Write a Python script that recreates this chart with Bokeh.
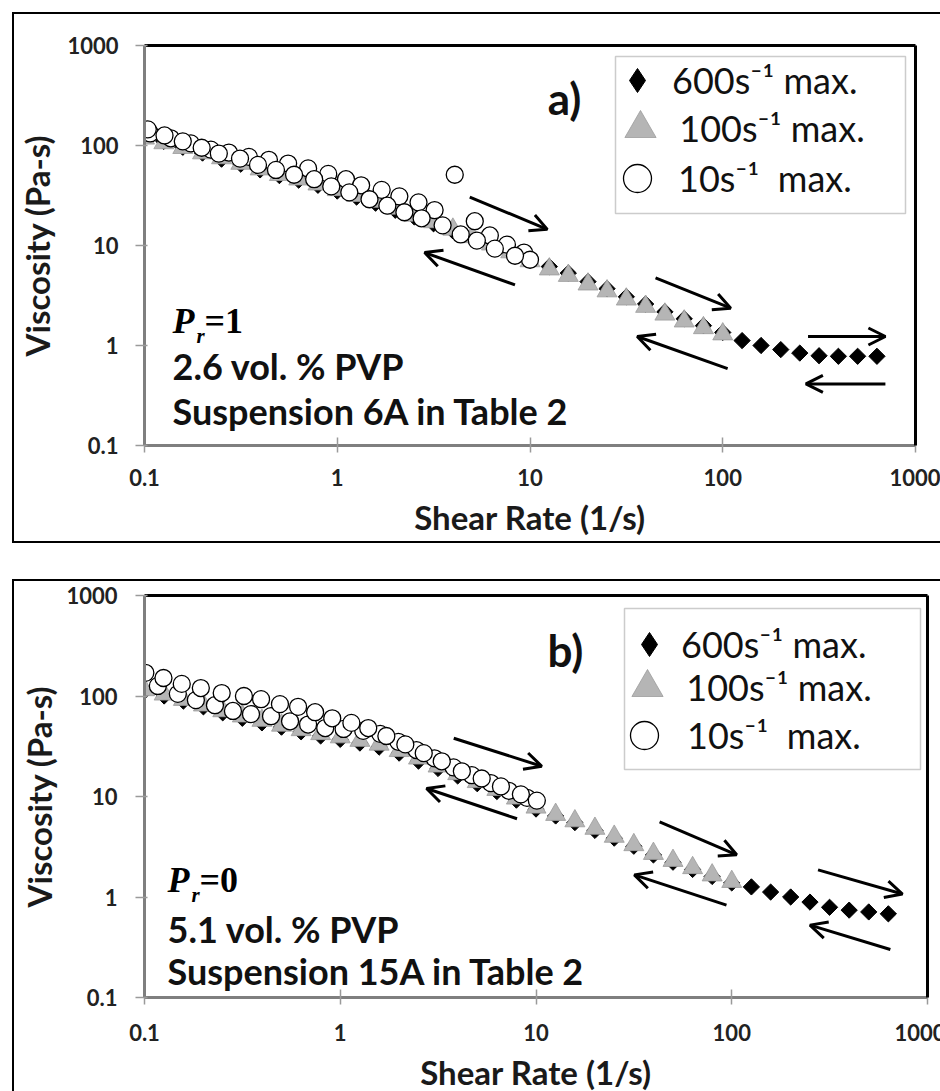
import math
from bokeh.plotting import figure
from bokeh.models import (FixedTicker, CustomJSTickFormatter, LogAxis, Label, Arrow, OpenHead,
                          Legend, LegendItem, BoxAnnotation, ColumnDataSource)
from bokeh.layouts import column
from bokeh.embed import file_html
from bokeh.resources import INLINE

# ---------------- data ----------------
TICKS = [0.1, 1, 10, 100, 1000]

SHEAR_GRID = [0.1, 0.126, 0.158, 0.2, 0.251, 0.316, 0.398, 0.501, 0.631, 0.794,
              1.0, 1.26, 1.58, 2.0, 2.51, 3.16, 3.98, 5.01, 6.31, 7.94,
              10.0, 12.6, 15.8, 20.0, 25.1, 31.6, 39.8, 50.1, 63.1, 79.4,
              100.0, 126, 158, 200, 251, 316, 398, 501, 631]
SHEAR_100 = SHEAR_GRID[:31]

# panel a  (Pr = 1, 2.6 vol.% PVP)
a_visc_600 = [125, 110, 96, 84, 73, 65, 57, 50, 45, 40,
              35, 30.5, 26.5, 22.5, 19.3, 16.5, 14, 11.8, 10, 8.3,
              7.3, 6.15, 5.3, 4.35, 3.7, 3.07, 2.6, 2.17, 1.85, 1.58,
              1.35, 1.12, 1.0, 0.91, 0.84, 0.79, 0.78, 0.78, 0.78]
a_visc_100 = [118, 106, 95, 84, 75, 66, 58, 51, 46, 41,
              36, 31.5, 27.5, 23.5, 20, 17.2, 14.5, 12.2, 10.3, 8.6,
              7.0, 5.8, 5.0, 4.1, 3.5, 2.9, 2.45, 2.05, 1.75, 1.5, 1.3]
a_shear_10_up = [0.107, 0.137, 0.174, 0.221, 0.274, 0.348, 0.442, 0.556, 0.706, 0.898,
                 1.11, 1.33, 1.70, 2.10, 2.64, 3.20, 4.07, 5.17, 6.19, 7.59, 9.31]
a_visc_10_up = [132, 118, 105, 91, 85, 77, 72, 66, 59, 52,
                46, 40, 36, 31, 27, 22.6, 51, 17.5, 12.6, 10.2, 8.5]
a_shear_10_down = [10.0, 8.36, 6.57, 5.30, 4.37, 3.52, 2.74, 2.23, 1.82, 1.47, 1.155,
                   0.931, 0.759, 0.597, 0.481, 0.388, 0.313, 0.243, 0.198, 0.158, 0.127, 0.104]
a_visc_10_down = [7.2, 7.9, 9.3, 11.2, 12.9, 15.9, 18.7, 21.5, 25, 29, 34,
                  39, 46, 51, 57, 64, 74, 83, 95, 110, 126, 145]

# panel b  (Pr = 0, 5.1 vol.% PVP)
b_visc_600 = [112, 100, 89, 78, 68, 60, 54, 49, 44, 40,
              37, 34, 31, 27, 22.5, 19, 16, 13.4, 11.2, 9.2,
              7.5, 6.4, 5.5, 4.6, 3.85, 3.2, 2.62, 2.22, 1.88, 1.6,
              1.38, 1.26, 1.12, 1.0, 0.89, 0.79, 0.74, 0.71, 0.68]
b_visc_100 = [115, 104, 92, 81, 71, 63, 57, 51, 46, 42,
              39, 36, 33, 28.5, 24, 20, 16.8, 14, 11.7, 9.6,
              7.8, 6.6, 5.7, 4.8, 4.0, 3.3, 2.7, 2.3, 1.95, 1.65, 1.42]
b_shear_10_low = [0.117, 0.148, 0.183, 0.229, 0.283, 0.350, 0.443, 0.554, 0.685, 0.838,
                  1.04, 1.31, 1.60, 1.98, 2.45, 3.03, 3.79, 4.70, 5.88, 7.27, 9.0]
b_visc_10_low = [126, 105, 91, 81, 71, 66, 63, 56, 52, 48,
                 47, 45, 42, 35, 29, 24, 19.5, 16.3, 13.6, 11.4, 9.7]
b_shear_10_up = [0.101, 0.125, 0.155, 0.194, 0.248, 0.322, 0.394, 0.492, 0.609, 0.744, 0.910,
                 1.14, 1.39, 1.72, 2.15, 2.67, 3.30, 4.18, 5.28, 6.62, 8.37, 10.1]
b_visc_10_up = [170, 151, 132, 120, 107, 100, 93, 83, 78, 69, 60,
                54, 48, 40, 33, 27, 22.4, 17.8, 15.1, 12.6, 10.5, 9.1]

LEGEND_LABELS = ["600s\u207b\u00b9 max.", "100s\u207b\u00b9 max.", "10s\u207b\u00b9  max."]

# arrow annotations (data space: x_start, y_start, x_end, y_end)
a_arrows = [(4.87, 30.5, 12.3, 14.5), (8.36, 4.04, 2.84, 8.5),
            (44.8, 4.75, 110, 2.36), (106, 0.586, 36, 1.23),
            (277, 1.23, 698, 1.23), (698, 0.413, 270, 0.413)]
b_arrows = [(3.8, 38, 10.7, 20), (8.0, 6.0, 2.76, 12),
            (42.8, 5.6, 106, 2.63), (94, 0.83, 31.8, 1.66),
            (276, 1.86, 745, 1.07), (646, 0.30, 251, 0.525)]

FONT = "Lato"
SERIF = "Liberation Serif"
AXIS_GREY = "#7f7f7f"
INK = "#111111"


def make_panel(cfg):
    fl, fr, ft, fb = cfg["frame"]          # page coords of frame
    cl, ct = cfg["canvas_origin"]
    p = figure(x_axis_type="log", y_axis_type="log",
               x_range=(0.1, 1000), y_range=(0.1, 1000),
               frame_width=fr - fl, frame_height=fb - ft,
               min_border_left=fl - cl, min_border_right=cfg["canvas_right"] - fr,
               min_border_top=ft - ct, min_border_bottom=cfg["canvas_bottom"] - fb,
               output_backend="svg", toolbar_location=None,
               background_fill_color="white", border_fill_color="white")
    p.outline_line_color = None
    p.grid.visible = False

    fmt = CustomJSTickFormatter(code="return tick.toString()")
    for ax in (p.xaxis[0], p.yaxis[0]):
        ax.ticker = FixedTicker(ticks=TICKS, minor_ticks=[])
        ax.formatter = fmt
        ax.axis_line_color = AXIS_GREY
        ax.axis_line_width = 3
        ax.major_tick_line_color = "#9a9a9a"
        ax.major_tick_line_width = 1.5
        ax.minor_tick_line_color = None
        ax.major_label_text_font = FONT
        ax.major_label_text_font_style = "bold"
        ax.major_label_text_font_size = "22px"
        ax.major_label_text_color = "#222222"
        ax.axis_label_text_font = FONT
        ax.axis_label_text_font_style = "bold"
        ax.axis_label_text_font_size = "33px"
        ax.axis_label_text_color = "#1a1a1a"
    p.xaxis.axis_label = "Shear Rate (1/s)"
    p.yaxis.axis_label = "Viscosity (Pa-s)"
    p.yaxis.major_tick_out = 9
    p.yaxis.major_tick_in = 3
    p.yaxis.major_label_standoff = cfg["ylab_standoff"]
    p.yaxis.axis_label_standoff = cfg["ytitle_standoff"]
    p.xaxis.major_tick_out = 7
    p.xaxis.major_tick_in = 8
    p.xaxis.major_label_standoff = cfg["xlab_standoff"]
    p.xaxis.axis_label_standoff = cfg["xtitle_standoff"]

    for side in ("above", "right"):
        ax = LogAxis(ticker=FixedTicker(ticks=[]), axis_line_color="black", axis_line_width=3,
                     major_tick_line_color=None, minor_tick_line_color=None,
                     major_label_text_font_size="0px")
        p.add_layout(ax, side)

    d = cfg["data"]
    src600 = ColumnDataSource(dict(x=SHEAR_GRID, y=d["v600"]))
    src100 = ColumnDataSource(dict(x=SHEAR_100, y=d["v100"]))
    src10 = ColumnDataSource(dict(x=d["s10_a"] + d["s10_b"], y=d["v10_a"] + d["v10_b"]))
    # legend key for the diamond series: same data, narrower diamond marker,
    # drawn first so the rotated squares below cover it completely
    r600_key = p.scatter("x", "y", source=src600, marker="diamond", size=10,
                         fill_color="black", line_color="black")
    p.scatter("x", "y", source=src600, marker="square", angle=math.pi / 4, size=11.5,
              fill_color="black", line_color="black")
    r100 = p.scatter("x", "y", source=src100, marker="triangle", size=20,
                     fill_color="#b5b5b5", line_color="#9c9c9c", line_width=0.8)
    r10 = p.scatter("x", "y", source=src10, marker="circle", size=17,
                    fill_color="white", line_color="black", line_width=1.3)

    for (xs, ys, xe, ye) in cfg["arrows"]:
        p.add_layout(Arrow(x_start=xs, y_start=ys, x_end=xe, y_end=ye,
                           line_color="black", line_width=3,
                           end=OpenHead(size=17, line_width=3, line_color="black")))

    # legend box
    bx0, by0, bx1, by1 = cfg["legend_box"]
    p.add_layout(BoxAnnotation(left=bx0 - fl, right=bx1 - fl, top=fb - by0, bottom=fb - by1,
                               left_units="screen", right_units="screen",
                               top_units="screen", bottom_units="screen",
                               fill_alpha=0, fill_color=None,
                               line_color="#555555", line_width=1.5))
    for rend, label, size, cx, cy, tx in zip([r600_key, r100, r10], LEGEND_LABELS,
                                             cfg["key_sizes"], cfg["key_cx"], cfg["key_cy"], cfg["key_tx"]):
        g = size / 0.4
        leg = Legend(items=[LegendItem(label=label, renderers=[rend])],
                     location=(cx - g / 2 - fl, fb - (cy + g / 2)),
                     glyph_width=int(round(g)), glyph_height=int(round(g)),
                     label_standoff=max(0, int(round(tx - (cx + g / 2)))),
                     padding=0, margin=0, spacing=0, label_height=10,
                     border_line_color=None, background_fill_alpha=0,
                     label_text_font=FONT, label_text_font_size="36px",
                     label_text_color=INK)
        p.add_layout(leg)

    # annotation texts (y values are text centres in page pixels)
    px, pc = cfg["pr_pos"]
    p.add_layout(Label(x=px - fl, y=fb - pc, x_units="screen", y_units="screen", text="P",
                       text_font=SERIF, text_font_style="bold italic", text_font_size="36px",
                       text_color="black", text_baseline="middle"))
    p.add_layout(Label(x=px + 24 - fl, y=fb - pc - 15, x_units="screen", y_units="screen", text="r",
                       text_font=SERIF, text_font_style="bold italic", text_font_size="21px",
                       text_color="black", text_baseline="middle"))
    p.add_layout(Label(x=px + 32 - fl, y=fb - pc, x_units="screen", y_units="screen",
                       text=cfg["pr_text"], text_font=SERIF, text_font_style="bold",
                       text_color="black", text_font_size="36px", text_baseline="middle"))
    for txt, yc in zip(cfg["lines"], cfg["line_centres"]):
        p.add_layout(Label(x=px - fl, y=fb - yc, x_units="screen", y_units="screen", text=txt,
                           text_font=FONT, text_font_style="bold", text_font_size="36px",
                           text_color=INK, text_baseline="middle"))
    tx, tc = cfg["tag_pos"]
    p.add_layout(Label(x=tx - fl, y=fb - tc, x_units="screen", y_units="screen", text=cfg["tag"],
                       text_font=FONT, text_font_style="bold", text_font_size="44px",
                       text_color=INK, text_align="center", text_baseline="middle"))
    return p


cfg_a = dict(frame=(144, 913, 45, 441), canvas_origin=(14, 14), canvas_right=940, canvas_bottom=541,
             ylab_standoff=17, ytitle_standoff=7, xlab_standoff=16, xtitle_standoff=8,
             data=dict(v600=a_visc_600, v100=a_visc_100, s10_a=a_shear_10_up, v10_a=a_visc_10_up,
                       s10_b=a_shear_10_down, v10_b=a_visc_10_down),
             arrows=a_arrows, legend_box=(615, 52, 905, 209),
             key_sizes=(24, 31, 28), key_cx=(637, 640, 637), key_cy=(76, 124, 174), key_tx=(672, 672, 678),
             pr_pos=(172, 316), pr_text="=1",
             lines=["2.6 vol. % PVP", "Suspension 6A in Table 2"], line_centres=(361, 406),
             tag="a)", tag_pos=(564, 93))
cfg_b = dict(frame=(137, 918, 595, 995), canvas_origin=(14, 581), canvas_right=940, canvas_bottom=1091,
             ylab_standoff=18, ytitle_standoff=4, xlab_standoff=19, xtitle_standoff=8,
             data=dict(v600=b_visc_600, v100=b_visc_100, s10_a=b_shear_10_low, v10_a=b_visc_10_low,
                       s10_b=b_shear_10_up, v10_b=b_visc_10_up),
             arrows=b_arrows, legend_box=(617, 606, 913, 767),
             key_sizes=(24, 31, 28), key_cx=(642, 640, 637), key_cy=(642, 685, 733), key_tx=(674, 674, 680),
             pr_pos=(160, 877), pr_text="=0",
             lines=["5.1 vol. % PVP", "Suspension 15A in Table 2"], line_centres=(926, 968),
             tag="b)", tag_pos=(558, 647))

p1 = make_panel(cfg_a)
p2 = make_panel(cfg_b)
p1.styles = {"border-top": "2px solid black", "border-left": "2px solid black",
             "border-bottom": "2px solid black"}
p2.styles = {"border-top": "2px solid black", "border-left": "2px solid black"}

layout = column(p1, p2, spacing=36, margin=(12, 0, 0, 12))
open("out.html", "w").write(file_html(layout, INLINE))
